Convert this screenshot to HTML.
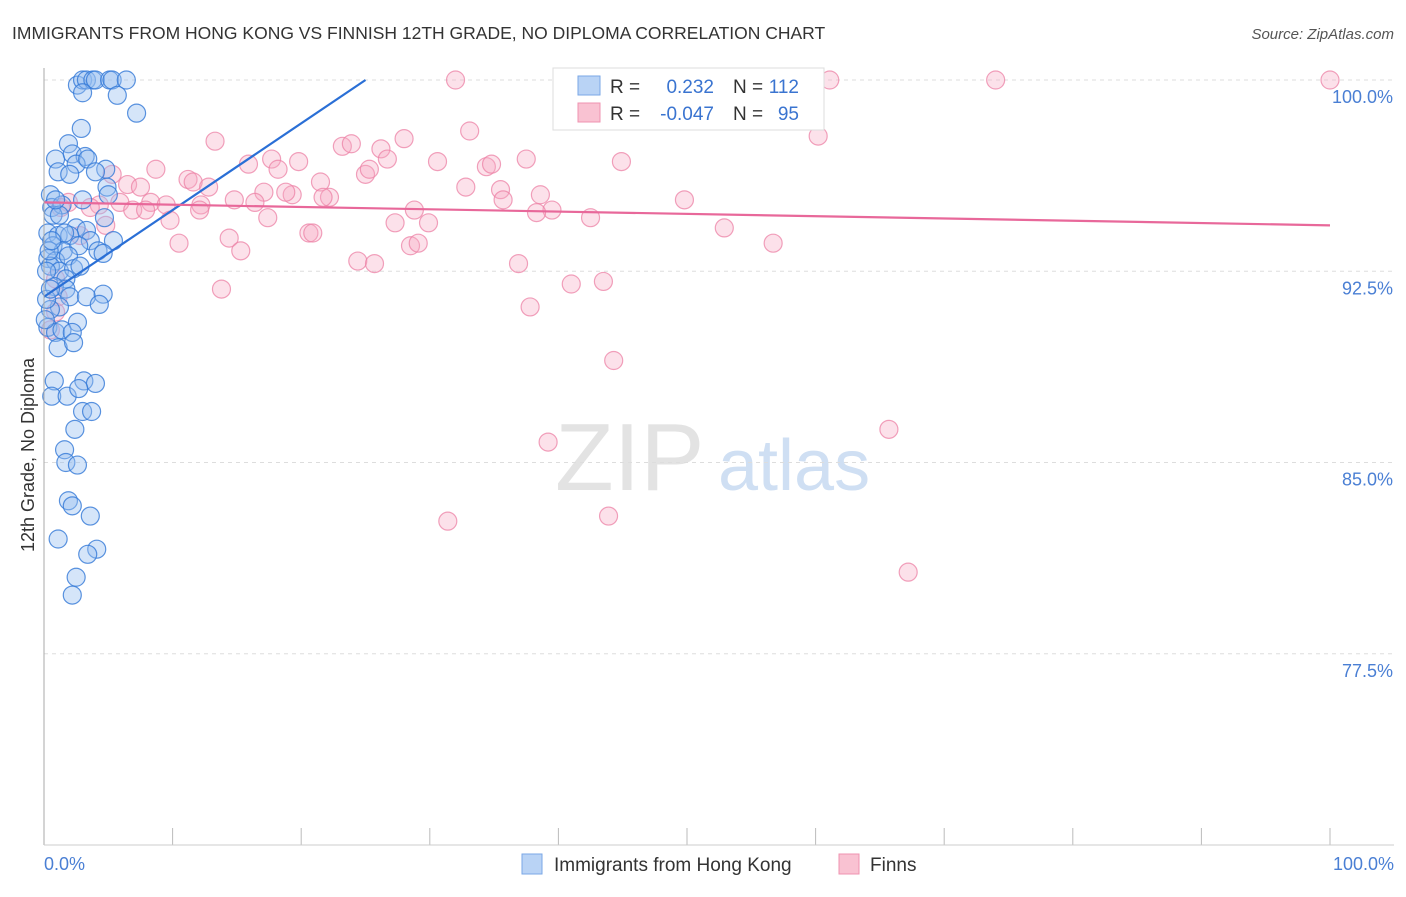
<!DOCTYPE html>
<html><head><meta charset="utf-8"><style>
body{margin:0;background:#fff;font-family:"Liberation Sans",sans-serif;}
svg text{font-family:"Liberation Sans",sans-serif;}
</style></head><body>
<svg id="c" width="1406" height="892">
<text x="12" y="39" font-size="17.5" fill="#333">IMMIGRANTS FROM HONG KONG VS FINNISH 12TH GRADE, NO DIPLOMA CORRELATION CHART</text>
<text x="1394" y="39" font-size="15" font-style="italic" fill="#555" text-anchor="end">Source: ZipAtlas.com</text>
<text x="0" y="0" transform="translate(34,455) rotate(-90)" font-size="18" fill="#333" text-anchor="middle">12th Grade, No Diploma</text>
<text x="555" y="490" font-size="96" fill="#e3e3e3" font-family="Liberation Serif">ZIP</text>
<text x="718" y="490" font-size="72" fill="#cfdff3">atlas</text>
<g id="grid"></g><g id="ticks"></g><g id="pink"></g><g id="blue"></g><g id="lines"></g>
<line x1="44" y1="68" x2="44" y2="845" stroke="#aaa"/>
<line x1="44" y1="845" x2="1394" y2="845" stroke="#ccc"/>
<text x="44" y="870" font-size="18" fill="#4a7fd4">0.0%</text>
<text x="1394" y="870" font-size="18" fill="#4a7fd4" text-anchor="end">100.0%</text>
<g>
<rect x="553" y="68" width="271" height="62" fill="#fff" stroke="#ddd"/>
<rect x="578" y="76" width="22" height="19" fill="#b9d3f5" stroke="#7aa7e6"/>
<rect x="578" y="103" width="22" height="19" fill="#f9c2d2" stroke="#ef93b0"/>
<text x="610" y="93" font-size="19" fill="#333">R =</text><text x="714" y="93" font-size="19" fill="#3a74d0" text-anchor="end">0.232</text>
<text x="733" y="93" font-size="19" fill="#333">N =</text><text x="799" y="93" font-size="19" fill="#3a74d0" text-anchor="end">112</text>
<text x="610" y="120" font-size="19" fill="#333">R =</text><text x="714" y="120" font-size="19" fill="#3a74d0" text-anchor="end">-0.047</text>
<text x="733" y="120" font-size="19" fill="#333">N =</text><text x="799" y="120" font-size="19" fill="#3a74d0" text-anchor="end">95</text>
</g>
<g>
<rect x="522" y="854" width="20" height="20" fill="#b9d3f5" stroke="#7aa7e6"/>
<text x="554" y="871" font-size="19" fill="#333">Immigrants from Hong Kong</text>
<rect x="839" y="854" width="20" height="20" fill="#f9c2d2" stroke="#ef93b0"/>
<text x="870" y="871" font-size="19" fill="#333">Finns</text>
</g>
</svg>
<script>
const yTicks=[100,92.5,85,77.5];
const yTickLabels=["100.0%","92.5%","85.0%","77.5%"];
const xTicks=[0,10,20,30,40,50,60,70,80,90,100];
const blueX=[2.6,3.0,3.3,3.8,4.0,5.1,5.3,6.4,3.0,5.7,7.2,2.9,1.9,0.9,2.2,3.2,2.5,3.4,4.8,1.1,2.0,4.0,4.9,0.5,5.0,3.0,0.6,1.4,4.7,0.7,2.5,3.3,0.3,1.1,2.0,1.6,3.6,5.4,0.7,1.5,2.7,4.2,4.6,0.3,0.9,1.9,0.5,1.2,2.3,2.8,1.7,0.8,1.7,2.0,3.3,4.6,4.3,1.2,0.5,2.6,0.3,0.9,1.4,2.2,1.1,2.3,0.8,3.1,4.0,0.6,1.8,2.7,3.0,3.7,2.4,1.6,1.7,2.6,1.9,2.2,3.6,1.1,4.1,3.4,2.5,2.2,0.2,0.1,0.5,0.2,0.4,0.6,1.2,0.9];
const blueY=[99.8,100,100,100,100,100,100,100,99.5,99.4,98.7,98.1,97.5,96.9,97.1,97.0,96.7,96.9,96.5,96.4,96.3,96.4,95.8,95.5,95.5,95.3,95.0,95.1,94.6,94.7,94.2,94.1,94.0,93.9,93.9,94.0,93.7,93.7,93.5,93.3,93.5,93.3,93.2,93.0,92.9,93.1,92.7,92.5,92.6,92.7,92.2,91.9,91.8,91.5,91.5,91.6,91.2,91.1,91.0,90.5,90.3,90.1,90.2,90.1,89.5,89.7,88.2,88.2,88.1,87.6,87.6,87.9,87.0,87.0,86.3,85.5,85.0,84.9,83.5,83.3,82.9,82.0,81.6,81.4,80.5,79.8,91.4,90.6,91.8,92.5,93.3,93.7,94.7,95.3];
const pinkX=[32.0,55.8,61.1,74.0,100,51.9,41.4,60.2,13.3,33.1,28.0,23.2,23.9,26.2,26.7,15.9,17.7,19.8,30.6,37.5,34.4,34.8,44.9,8.7,18.2,25.0,25.3,5.3,6.5,7.5,11.2,11.6,12.8,21.5,17.1,19.3,18.8,32.8,35.5,35.7,38.6,49.8,22.2,21.7,14.8,16.4,12.2,4.3,5.9,8.3,9.5,1.9,1.3,3.6,6.9,7.9,12.1,39.5,38.3,28.8,9.8,17.4,27.3,29.9,42.5,4.8,20.6,20.9,52.9,2.8,14.4,10.5,28.5,29.1,56.7,15.3,24.4,25.7,36.9,13.8,41.0,43.5,37.8,1.1,0.9,44.3,39.2,65.7,31.4,43.9,67.2,0.5,0.9];
const pinkY=[100,100,100,100,100,98.7,98.7,97.8,97.6,98.0,97.7,97.4,97.5,97.3,96.9,96.7,96.9,96.8,96.8,96.9,96.6,96.7,96.8,96.5,96.5,96.3,96.5,96.3,95.9,95.8,96.1,96.0,95.8,96.0,95.6,95.5,95.6,95.8,95.7,95.3,95.5,95.3,95.4,95.4,95.3,95.2,95.1,95.1,95.2,95.2,95.1,95.2,95.0,95.0,94.9,94.9,94.9,94.9,94.8,94.9,94.5,94.6,94.4,94.4,94.6,94.3,94.0,94.0,94.2,93.9,93.8,93.6,93.5,93.6,93.6,93.3,92.9,92.8,92.8,91.8,92.0,92.1,91.1,91.5,90.9,89.0,85.8,86.3,82.7,82.9,80.7,90.2,92.2];
const blueTrend=[[0,91.5],[25,100]];
const pinkTrend=[[0,95.2],[100,94.3]];
const NS="http://www.w3.org/2000/svg";
const X=v=>44+v*12.86, Y=v=>80+(100-v)*25.5;
function mk(t,p,a){const e=document.createElementNS(NS,t);for(const k in a)e.setAttribute(k,a[k]);p.appendChild(e);return e;}
const grid=document.getElementById('grid');
yTicks.forEach((t,i)=>{
 const l=mk('line',grid,{x1:44,x2:1394,y1:Y(t),y2:Y(t),stroke:'#ddd','stroke-dasharray':'4,4'});
 
 
 const tx=mk('text',grid,{x:1393,y:Y(t)+23,'font-size':18,fill:'#4a7fd4','text-anchor':'end'});
 tx.textContent=yTickLabels[i];
 
 
});
const tk=document.getElementById('ticks');
xTicks.forEach(t=>{
 const l=mk('line',tk,{x1:X(t),x2:X(t),y1:828,y2:845,stroke:'#bbb'});
 
 
});
function pts(g,xs,ys,fill,stroke,name){
 xs.forEach((x,i)=>{
  const c=mk('circle',g,{cx:X(x),cy:Y(ys[i]),r:9,fill:fill,stroke:stroke,'stroke-width':1.2});
  
  
 });
}
pts(document.getElementById('pink'),pinkX,pinkY,'rgba(247,170,195,0.35)','rgba(236,130,165,0.75)','finns-point');
pts(document.getElementById('blue'),blueX,blueY,'rgba(150,190,240,0.4)','rgba(50,120,215,0.8)','hong-kong-point');
const lg=document.getElementById('lines');
const b=mk('line',lg,{x1:X(blueTrend[0][0]),y1:Y(blueTrend[0][1]),x2:X(blueTrend[1][0]),y2:Y(blueTrend[1][1]),stroke:'#2a6fd6','stroke-width':2.2});


const p=mk('line',lg,{x1:X(pinkTrend[0][0]),y1:Y(pinkTrend[0][1]),x2:X(pinkTrend[1][0]),y2:Y(pinkTrend[1][1]),stroke:'#e8689a','stroke-width':2.2});


</script>
</body></html>
